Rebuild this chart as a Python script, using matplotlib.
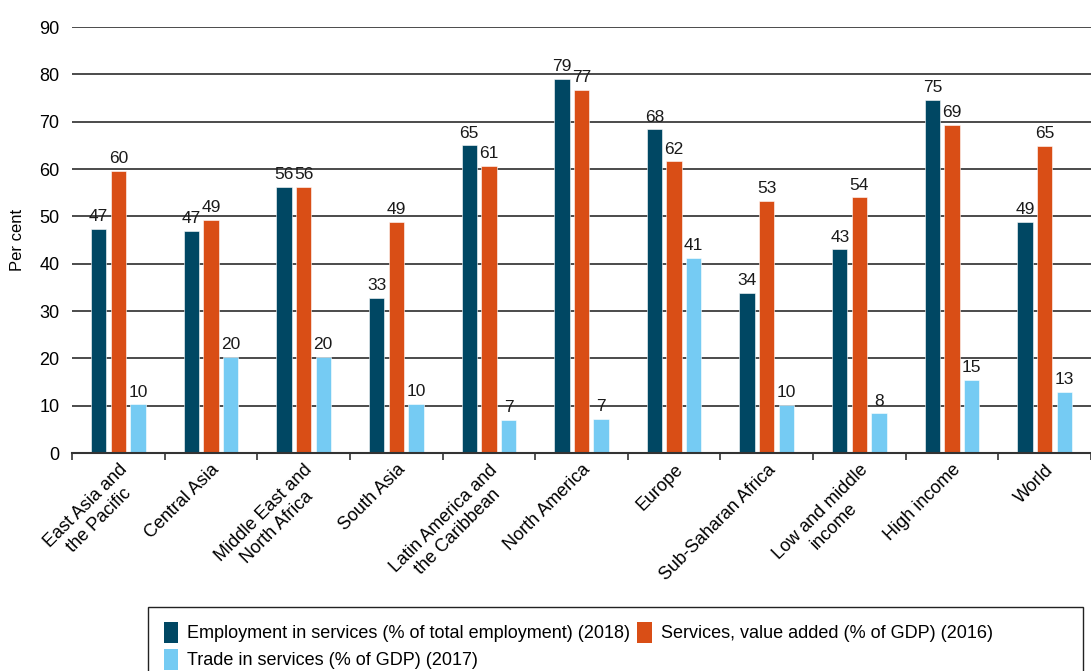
import matplotlib.pyplot as plt
from matplotlib.patches import Rectangle
import numpy as np

plt.rcParams['font.family'] = ['Liberation Sans', 'DejaVu Sans']

# data
regions = ['East Asia and\nthe Pacific', 'Central Asia', 'Middle East and\nNorth Africa',
           'South Asia', 'Latin America and\nthe Caribbean', 'North America', 'Europe',
           'Sub-Saharan Africa', 'Low and middle\nincome', 'High income', 'World']
employment = [47.4, 46.9, 56.2, 32.7, 65.0, 79.1, 68.4, 33.9, 43.0, 74.6, 48.9]
value_added = [59.6, 49.2, 56.2, 48.9, 60.6, 76.7, 61.6, 53.2, 54.0, 69.4, 64.9]
trade = [10.3, 20.3, 20.3, 10.4, 7.0, 7.2, 41.2, 10.2, 8.4, 15.4, 12.9]

series_names = ['Employment in services (% of total employment) (2018)',
                'Services, value added (% of GDP) (2016)',
                'Trade in services (% of GDP) (2017)']
colors = ['#004763', '#D94E16', '#75CBF3']

fig = plt.figure(figsize=(10.91, 6.71), dpi=100)
ax = fig.add_axes([72/1091, 1-453/671, 1-72/1091, 426/671])

x = np.arange(len(regions))
w = 0.165
step = 0.212
bars = []
for i, (vals, c, name) in enumerate(zip([employment, value_added, trade], colors, series_names)):
    pos = x + (i-1)*step
    b = ax.bar(pos, vals, width=w, color=c, edgecolor='white', linewidth=0.4, label=name, zorder=3)
    bars.append(b)
    for px, v in zip(pos, vals):
        ax.text(px, v+1.0, f'{v:.0f}', ha='center', va='bottom', fontsize=12.5, color='#1a1a1a', zorder=4)

ax.set_xlim(-0.5, len(regions)-0.5)
ax.set_ylim(0, 90)
ax.set_yticks(range(0, 91, 10))
ax.tick_params(axis='y', length=0, labelsize=13, pad=9)
ax.yaxis.grid(True, color='#1a1a1a', linewidth=1.1, zorder=1)
ax.set_axisbelow(True)
for s in ['top', 'right', 'left']:
    ax.spines[s].set_visible(False)
ax.spines['bottom'].set_color('#333333')
ax.spines['bottom'].set_linewidth(1.5)
ax.spines['bottom'].set_zorder(5)

# category labels at centres, tick marks between groups
ax.set_xticks(x)
ax.set_xticklabels(regions, rotation=45, ha='right', rotation_mode='anchor',
                   fontsize=13, multialignment='center')
ax.tick_params(axis='x', which='major', length=0, pad=6)
ax.set_xticks(np.arange(-0.5, len(regions)), minor=True)
ax.tick_params(axis='x', which='minor', length=5, width=1.2, color='#333333')

ax.set_ylabel('Per cent', fontsize=12, labelpad=10)

# legend box drawn as its own frame, entries inside it
fig.patches.append(Rectangle((148/1091, -0.01), (1083-148)/1091, 1-607/671 + 0.01,
                             transform=fig.transFigure, fill=False,
                             edgecolor='#222222', linewidth=1.0))
handles = [bars[0], bars[2], bars[1]]
labels = [series_names[0], series_names[2], series_names[1]]
leg = fig.legend(handles, labels, ncol=2, loc='upper left',
                 bbox_to_anchor=(152/1091, 1-610/671), fontsize=13,
                 frameon=False,
                 handlelength=0.8, handleheight=1.4, handletextpad=0.5,
                 columnspacing=0.4, labelspacing=0.35, borderpad=0.15)
for h in leg.legend_handles:
    h.set_edgecolor('none')

fig.savefig('out.png', dpi=100)
